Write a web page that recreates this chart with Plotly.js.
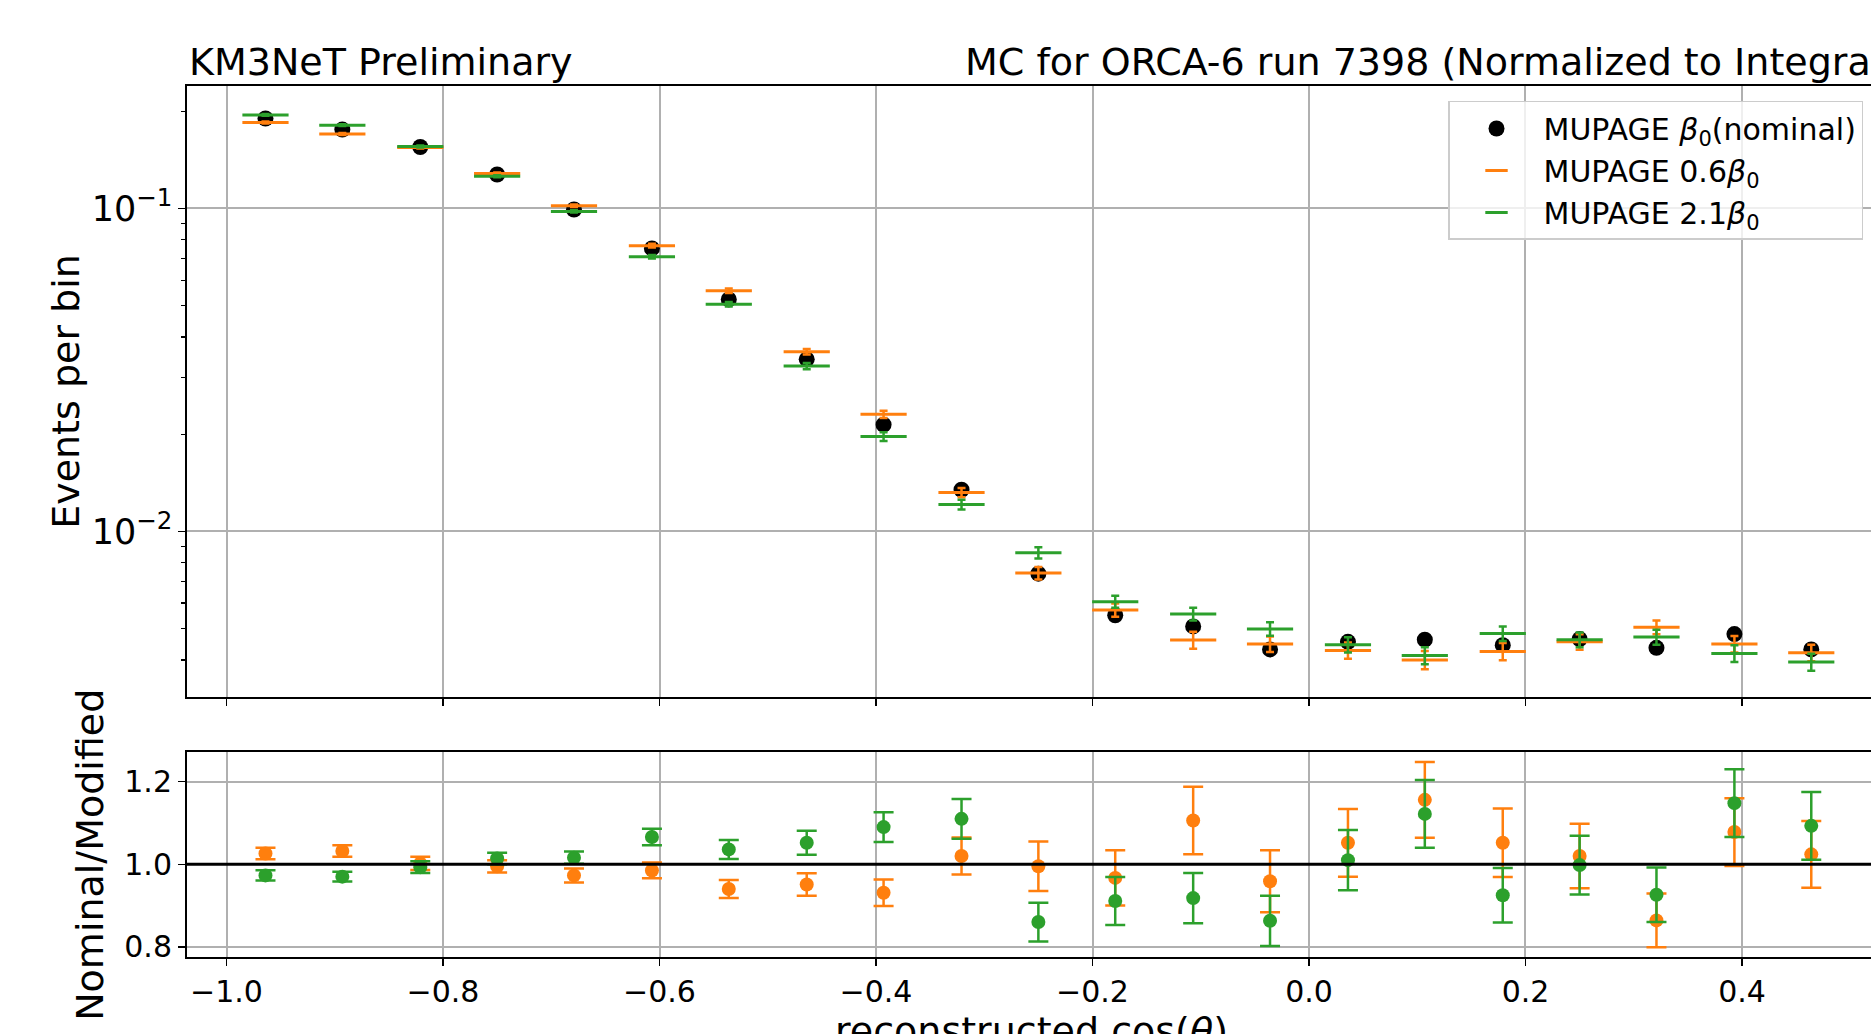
<!DOCTYPE html>
<html>
<head>
<meta charset="utf-8">
<script src="https://cdn.plot.ly/plotly-3.0.1.min.js"></script>
<style>
  html, body { margin: 0; padding: 0; overflow: hidden; background: #fff; }
  #chart { width: 1880px; height: 1080px; }
</style>
</head>
<body>
<div id="chart"></div>
<script>
// ---- data ----
const binCenters = [-0.964, -0.893, -0.821, -0.750, -0.679, -0.607, -0.536, -0.464, -0.393, -0.321,
                    -0.250, -0.179, -0.107, -0.036, 0.036, 0.107, 0.179, 0.250, 0.321, 0.393, 0.464];

const nominal    = [0.1900, 0.1755, 0.1550, 0.1274, 0.0993, 0.0752, 0.0523, 0.0341, 0.0214, 0.01346,
                    0.00740, 0.00550, 0.00508, 0.00431, 0.00455, 0.00462, 0.00444, 0.00464, 0.00436, 0.00481, 0.00431];
const nominalErr = [0.0009, 0.0009, 0.0008, 0.0007, 0.0006, 0.0006, 0.0005, 0.0004, 0.0003, 0.00025,
                    0.00018, 0.00016, 0.00015, 0.00014, 0.00014, 0.00014, 0.00014, 0.00014, 0.00014, 0.00014, 0.00014];

const mod06      = [0.1845, 0.1702, 0.1545, 0.1283, 0.1019, 0.0767, 0.0556, 0.0360, 0.02306, 0.0132,
                    0.00743, 0.00571, 0.00461, 0.00448, 0.00428, 0.00400, 0.00425, 0.00455, 0.00505, 0.00448, 0.00421];
const mod06Err   = [0.0013, 0.0012, 0.0011, 0.0010, 0.0009, 0.0010, 0.0009, 0.0007, 0.0006, 0.00044,
                    0.00033, 0.00027, 0.00028, 0.00025, 0.00025, 0.00026, 0.00026, 0.00025, 0.00025, 0.00026, 0.00025];

const mod21      = [0.1949, 0.1811, 0.1556, 0.1259, 0.0979, 0.0709, 0.0505, 0.0325, 0.01967, 0.01212,
                    0.00859, 0.00606, 0.00555, 0.00499, 0.00446, 0.00413, 0.00483, 0.00462, 0.00471, 0.00419, 0.00394];
const mod21Err   = [0.0012, 0.0011, 0.0010, 0.0009, 0.0008, 0.0009, 0.0008, 0.0007, 0.0006, 0.00042,
                    0.00034, 0.00026, 0.00025, 0.00024, 0.00024, 0.00025, 0.00025, 0.00024, 0.00025, 0.00025, 0.00024];

const ratio06    = [1.026, 1.032, 1.002, 0.995, 0.973, 0.985, 0.940, 0.951, 0.931, 1.020,
                    0.995, 0.967, 1.106, 0.959, 1.052, 1.156, 1.052, 1.020, 0.864, 1.078, 1.024];
const ratio06Err = [0.014, 0.014, 0.016, 0.015, 0.017, 0.019, 0.022, 0.027, 0.032, 0.045,
                    0.060, 0.067, 0.082, 0.075, 0.082, 0.092, 0.083, 0.078, 0.065, 0.082, 0.081];
const ratio21    = [0.973, 0.970, 0.993, 1.014, 1.016, 1.066, 1.036, 1.052, 1.090, 1.110,
                    0.860, 0.911, 0.918, 0.863, 1.010, 1.122, 0.925, 0.998, 0.926, 1.148, 1.093];
const ratio21Err = [0.0125, 0.012, 0.014, 0.014, 0.015, 0.020, 0.023, 0.029, 0.036, 0.048,
                    0.047, 0.058, 0.061, 0.061, 0.073, 0.082, 0.066, 0.071, 0.066, 0.082, 0.082];

const xTicks      = [-1.0, -0.8, -0.6, -0.4, -0.2, 0.0, 0.2, 0.4];
const ratioTicks  = [0.8, 1.0, 1.2];
const refLine     = 1.0;

const seriesNames = ['MUPAGE <i>β</i><sub>0</sub>(nominal)',
                     'MUPAGE 0.6<i>β</i><sub>0</sub>',
                     'MUPAGE 2.1<i>β</i><sub>0</sub>'];
const titleLeft  = 'KM3NeT Preliminary';
const titleRight = 'MC for ORCA-6 run 7398 (Normalized to Integral)';
const xTitle = 'reconstructed cos(<i>θ</i>)';
const yTitleTop = 'Events per bin';
const yTitleBottom = 'Nominal/Modified';

// ---- styling ----
const ORANGE = '#ff7f0e', GREEN = '#2ca02c', BLACK = '#000000';
const FONT = 'DejaVu Sans, Verdana, sans-serif';
const GRID = '#b0b0b0';

const traces = [
  { x: binCenters, y: nominal, type: 'scatter', mode: 'markers', name: seriesNames[0],
    xaxis: 'x', yaxis: 'y', legendgroup: 'g0',
    marker: { color: BLACK, size: 16, symbol: 'circle' },
    error_y: { type: 'data', array: nominalErr, visible: true, color: BLACK, thickness: 2.5, width: 4 } },
  { x: binCenters, y: mod06, type: 'scatter', mode: 'markers', name: seriesNames[1],
    xaxis: 'x', yaxis: 'y', legendgroup: 'g1',
    marker: { color: ORANGE, size: 33, symbol: 'line-ew', line: { color: ORANGE, width: 3 } },
    error_y: { type: 'data', array: mod06Err, visible: true, color: ORANGE, thickness: 2.5, width: 4 } },
  { x: binCenters, y: mod21, type: 'scatter', mode: 'markers', name: seriesNames[2],
    xaxis: 'x', yaxis: 'y', legendgroup: 'g2',
    marker: { color: GREEN, size: 33, symbol: 'line-ew', line: { color: GREEN, width: 3 } },
    error_y: { type: 'data', array: mod21Err, visible: true, color: GREEN, thickness: 2.5, width: 4 } },
  { x: binCenters, y: ratio06, type: 'scatter', mode: 'markers', showlegend: false,
    xaxis: 'x2', yaxis: 'y2',
    marker: { color: ORANGE, size: 14 },
    error_y: { type: 'data', array: ratio06Err, visible: true, color: ORANGE, thickness: 2.5, width: 10 } },
  { x: binCenters, y: ratio21, type: 'scatter', mode: 'markers', showlegend: false,
    xaxis: 'x2', yaxis: 'y2',
    marker: { color: GREEN, size: 14 },
    error_y: { type: 'data', array: ratio21Err, visible: true, color: GREEN, thickness: 2.5, width: 10 } }
];

const xRange = [-1.0365, 0.5238];
const commonX = {
  range: xRange, tickvals: xTicks, tickformat: '.1f',
  showgrid: true, gridcolor: GRID, gridwidth: 2, zeroline: false,
  showline: true, linecolor: BLACK, linewidth: 2, mirror: true,
  ticks: 'outside', ticklen: 7, tickwidth: 1.5, tickcolor: BLACK
};

const layout = {
  width: 1880, height: 1080,
  margin: { l: 187, r: 4, t: 86, b: 123 },
  paper_bgcolor: '#ffffff', plot_bgcolor: '#ffffff',
  font: { family: FONT, color: BLACK, size: 30 },
  showlegend: true,
  legend: {
    x: 0.7466, y: 0.9828, xanchor: 'left', yanchor: 'top',
    bgcolor: 'rgba(255,255,255,0.8)', bordercolor: '#cccccc', borderwidth: 1.5,
    font: { family: FONT, size: 30, color: BLACK },
    itemwidth: 84, tracegroupgap: 4, traceorder: 'normal'
  },
  xaxis: Object.assign({}, commonX, { anchor: 'y', showticklabels: false }),
  xaxis2: Object.assign({}, commonX, {
    anchor: 'y2', matches: 'x', showticklabels: true,
    tickfont: { family: FONT, size: 30 },
    title: { text: xTitle, font: { family: FONT, size: 38 }, standoff: 6 }
  }),
  yaxis: {
    domain: [0.2985, 1], type: 'log', range: [-2.5128, -0.6207],
    dtick: 1, exponentformat: 'power',
    showgrid: true, gridcolor: GRID, gridwidth: 2, zeroline: false,
    showline: true, linecolor: BLACK, linewidth: 2, mirror: true,
    ticks: 'outside', ticklen: 7, tickwidth: 1.5, tickcolor: BLACK,
    tickfont: { family: FONT, size: 28 },
    minor: { ticks: 'outside', ticklen: 4, tickwidth: 1.2, tickcolor: BLACK, dtick: 'D1', showgrid: false },
    title: { text: yTitleTop, font: { family: FONT, size: 38 }, standoff: 0 }
  },
  yaxis2: {
    domain: [0, 0.2348], range: [0.7753, 1.2708],
    tickvals: ratioTicks, tickformat: '.1f',
    showgrid: true, gridcolor: GRID, gridwidth: 2, zeroline: false,
    showline: true, linecolor: BLACK, linewidth: 2, mirror: true,
    ticks: 'outside', ticklen: 7, tickwidth: 1.5, tickcolor: BLACK,
    tickfont: { family: FONT, size: 30 },
    title: { text: yTitleBottom, font: { family: FONT, size: 38 }, standoff: 9 }
  },
  shapes: [
    { type: 'line', xref: 'x2 domain', yref: 'y2', x0: 0, x1: 1, y0: refLine, y1: refLine,
      line: { color: BLACK, width: 3 }, layer: 'above' }
  ],
  annotations: [
    { text: titleLeft, xref: 'paper', yref: 'paper', x: 0, y: 1, xanchor: 'left', yanchor: 'bottom',
      showarrow: false, font: { family: FONT, size: 38, color: BLACK }, xshift: 0, yshift: 0 },
    { text: titleRight, xref: 'paper', yref: 'paper', x: 1, y: 1, xanchor: 'right', yanchor: 'bottom',
      showarrow: false, font: { family: FONT, size: 38, color: BLACK }, xshift: 22, yshift: 0 }
  ]
};

Plotly.newPlot('chart', traces, layout, { displayModeBar: false, staticPlot: true });
</script>
</body>
</html>
